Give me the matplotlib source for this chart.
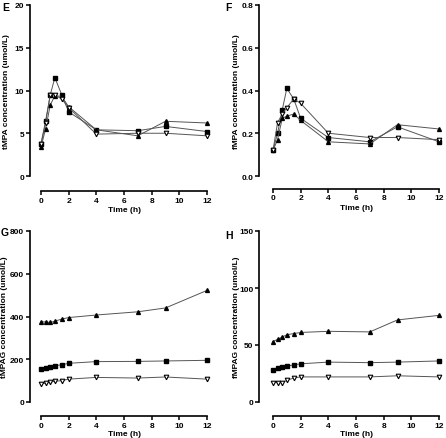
import matplotlib
matplotlib.use("Agg")
import matplotlib.pyplot as plt

plt.rcParams["font.family"] = ["Liberation Sans", "DejaVu Sans"]
plt.rcParams["font.weight"] = "bold"

time_h = [0, 0.33, 0.67, 1, 1.5, 2, 4, 7, 9, 12]

# panel E: tMPA
tmpa_sq = [3.8, 6.4, 9.5, 11.5, 9.5, 7.5, 5.4, 5.3, 5.8, 5.2]
tmpa_up = [3.4, 5.5, 8.3, 9.4, 9.3, 8.1, 5.4, 4.7, 6.4, 6.2]
tmpa_dn = [3.7, 6.2, 9.5, 9.5, 9.0, 8.0, 4.9, 5.0, 5.0, 4.7]

# panel F: fMPA
fmpa_sq = [0.12, 0.20, 0.31, 0.41, 0.36, 0.27, 0.18, 0.16, 0.23, 0.16]
fmpa_up = [0.12, 0.17, 0.27, 0.28, 0.29, 0.26, 0.16, 0.15, 0.24, 0.22]
fmpa_dn = [0.12, 0.25, 0.29, 0.32, 0.36, 0.34, 0.20, 0.18, 0.18, 0.17]

# panel G: tMPAG
tmpag_up = [375, 375, 372, 378, 388, 395, 407, 422, 440, 522]
tmpag_sq = [153, 158, 165, 170, 174, 181, 189, 190, 192, 195]
tmpag_dn = [85, 88, 93, 97, 100, 107, 115, 112, 117, 107]

# panel H: fMPAG
fmpag_up = [53, 55, 57, 59, 60, 61, 62, 61.5, 72, 76]
fmpag_sq = [28, 30, 31, 31.5, 32.5, 33.5, 35, 34.5, 35, 36]
fmpag_dn = [17, 17, 17, 19, 21, 22, 22, 22, 23, 22]

panels = [
    ("E", "tMPA concentration (umol/L)", [0, 5, 10, 15, 20], "{:g}",
     [tmpa_sq, tmpa_up, tmpa_dn]),
    ("F", "fMPA concentration (umol/L)", [0, 0.2, 0.4, 0.6, 0.8], "{:.1f}",
     [fmpa_sq, fmpa_up, fmpa_dn]),
    ("G", "tMPAG concentration (umol/L)", [0, 200, 400, 600, 800], "{:g}",
     [tmpag_sq, tmpag_up, tmpag_dn]),
    ("H", "fMPAG concentration (umol/L)", [0, 50, 100, 150], "{:g}",
     [fmpag_sq, fmpag_up, fmpag_dn]),
]

W, H = 446, 439
fig = plt.figure(figsize=(W / 100, H / 100), dpi=100)

# (x0 px, y0 px of data origin, outward left, outward bottom,
#  ylabel centre x px, xlabel centre y px)
boxes = [(41, 177, 8, 11, 6.5, 210), (273, 177, 10, 9, 236.5, 208),
         (41, 403, 8, 10, 5, 434.5), (273, 403, 10, 10, 236.5, 434.5)]
letters_xy = [(2, 3), (225, 3), (1, 228), (225, 231)]

styles = [
    dict(marker="s", markersize=2.8, mfc="black", mec="black"),
    dict(marker="^", markersize=2.8, mfc="black", mec="black"),
    dict(marker="v", markersize=3.3, mfc="white", mec="black", mew=0.8),
]

for (letter, ylabel, yticks, fmt, series), (x0, y0, lo, bo, ylx, xly), (lx, ly) in zip(
        panels, boxes, letters_xy):
    ax = fig.add_axes([x0 / W, (H - y0) / H, 166 / W, 171 / H])
    for vals, st in zip(series, styles):
        ax.plot(time_h, vals, color="#555555", lw=0.7, clip_on=False, **st)
    ax.set_xlim(0, 12)
    ax.set_ylim(yticks[0], yticks[-1])
    ax.set_xticks([0, 2, 4, 6, 8, 10, 12])
    ax.set_yticks(yticks)
    ax.set_yticklabels([fmt.format(v) for v in yticks])
    ax.spines["top"].set_visible(False)
    ax.spines["right"].set_visible(False)
    ax.spines["left"].set_position(("outward", lo))
    ax.spines["bottom"].set_position(("outward", bo))
    for s in ("left", "bottom"):
        ax.spines[s].set_linewidth(1.2)
    ax.tick_params(axis="both", length=3, width=1.1, labelsize=6, pad=1.2)
    ax.set_xlabel("Time (h)", fontsize=6, fontweight="bold")
    ax.xaxis.set_label_coords(0.5, (y0 - xly) / 171)
    ax.xaxis.label.set_va("center")
    ax.set_ylabel(ylabel, fontsize=6, fontweight="bold")
    ax.yaxis.set_label_coords((ylx - x0) / 166, 0.5)
    ax.yaxis.label.set_va("center")
    fig.text(lx / W, 1 - ly / H, letter, fontsize=7.5, fontweight="bold",
             ha="left", va="top")

fig.savefig("out.png", dpi=100)
